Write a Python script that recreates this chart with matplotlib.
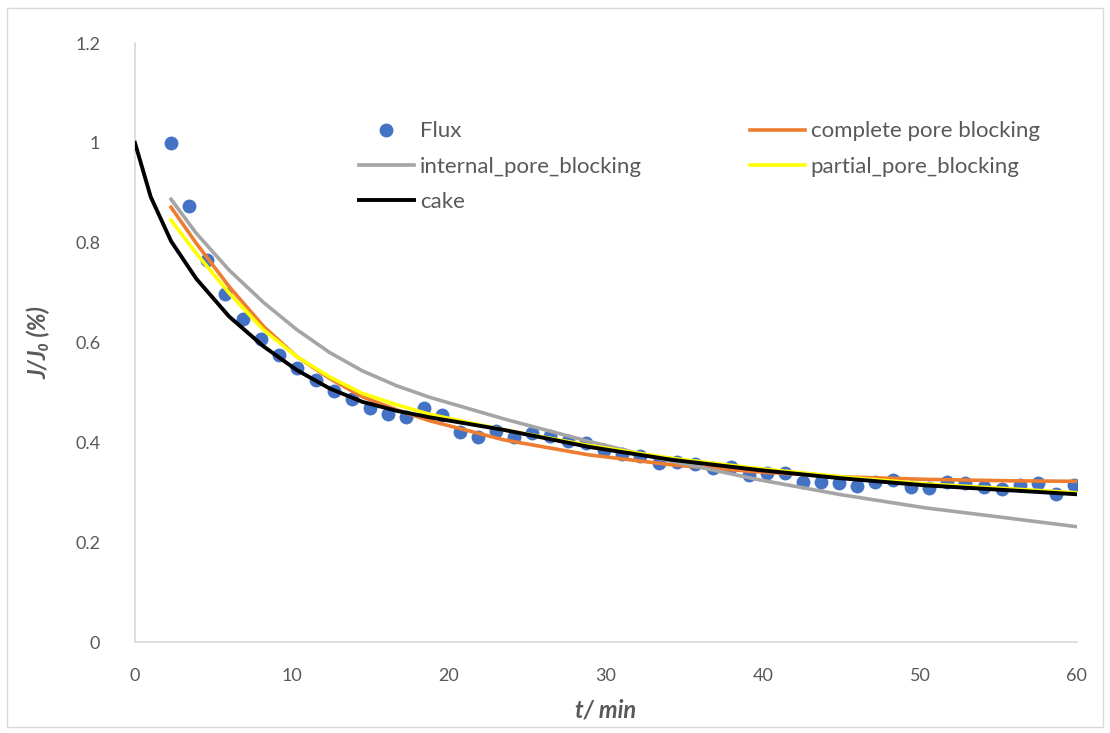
import matplotlib
matplotlib.use("Agg")
import matplotlib.pyplot as plt
from matplotlib.ticker import FuncFormatter
from matplotlib.patches import Rectangle

plt.rcParams['font.family'] = ['Lato', 'DejaVu Sans']

# measured flux (time in min, normalised flux)
t_flux = [2.30, 3.45, 4.60, 5.75, 6.90, 8.05, 9.20, 10.35, 11.50, 12.65,
          13.80, 14.95, 16.10, 17.25, 18.40, 19.55, 20.70, 21.85, 23.00, 24.15,
          25.30, 26.45, 27.60, 28.75, 29.90, 31.05, 32.20, 33.35, 34.50, 35.65,
          36.80, 37.95, 39.10, 40.25, 41.40, 42.55, 43.70, 44.85, 46.00, 47.15,
          48.30, 49.45, 50.60, 51.75, 52.90, 54.05, 55.20, 56.35, 57.50, 58.65,
          59.80]
flux = [1.000, 0.873, 0.765, 0.697, 0.647, 0.607, 0.575, 0.549, 0.525, 0.503,
        0.487, 0.469, 0.457, 0.451, 0.469, 0.455, 0.421, 0.411, 0.423, 0.411,
        0.419, 0.413, 0.403, 0.399, 0.385, 0.377, 0.373, 0.359, 0.361, 0.357,
        0.349, 0.351, 0.335, 0.339, 0.339, 0.321, 0.321, 0.319, 0.313, 0.321,
        0.325, 0.311, 0.309, 0.321, 0.319, 0.311, 0.307, 0.315, 0.319, 0.297,
        0.315]

# model curves
t_fit = [2.3, 3.9, 6.0, 8.2, 10.3, 12.4, 14.5, 16.7, 18.8, 23.5, 28.9,
         34.2, 39.6, 45.0, 50.3, 55.7, 60.0]
complete = [0.871, 0.799, 0.712, 0.632, 0.572, 0.528, 0.491, 0.465, 0.443,
            0.405, 0.375, 0.355, 0.341, 0.331, 0.326, 0.323, 0.322]
internal = [0.887, 0.819, 0.745, 0.680, 0.626, 0.580, 0.543, 0.513, 0.490,
            0.447, 0.402, 0.362, 0.326, 0.295, 0.269, 0.248, 0.231]
partial = [0.845, 0.779, 0.699, 0.625, 0.572, 0.531, 0.498, 0.475, 0.456,
           0.425, 0.394, 0.368, 0.348, 0.331, 0.317, 0.307, 0.299]
t_cake = [0.0, 1.0] + t_fit
cake = [1.000, 0.892, 0.803, 0.728, 0.652, 0.592, 0.545, 0.508, 0.481,
        0.463, 0.450, 0.425, 0.391, 0.365, 0.345, 0.328, 0.314, 0.304, 0.296]

text_col = '#595959'
axis_col = '#d9d9d9'

fig = plt.figure(figsize=(11.1, 7.33), dpi=100)
fig.patches.append(Rectangle((0.006, 0.008), 0.988, 0.981, transform=fig.transFigure,
                             fill=False, edgecolor=axis_col, linewidth=1))
ax = fig.add_axes([0.1216, 0.1241, 0.8486, 0.8172])

h_flux, = ax.plot(t_flux, flux, 'o', color='#4472C4', markersize=10,
                  markeredgewidth=0, label='Flux', zorder=2)
h_comp, = ax.plot(t_fit, complete, color='#ED7D31', lw=2.6,
                  label='complete pore blocking', zorder=3)
h_int, = ax.plot(t_fit, internal, color='#A5A5A5', lw=2.6,
                 label='internal_pore_blocking', zorder=3)
h_part, = ax.plot(t_fit, partial, color='#FFFF00', lw=2.6,
                  label='partial_pore_blocking', zorder=4)
h_cake, = ax.plot(t_cake, cake, color='black', lw=2.8, label='cake', zorder=5)

ax.set_xlim(0, 60)
ax.set_ylim(0, 1.2)
ax.set_xticks([0, 10, 20, 30, 40, 50, 60])
ax.set_yticks([0, 0.2, 0.4, 0.6, 0.8, 1.0, 1.2])
ax.yaxis.set_major_formatter(FuncFormatter(lambda v, p: '%g' % round(v, 2)))
ax.tick_params(length=0, labelsize=13, labelcolor=text_col)
ax.tick_params(axis='x', pad=19)
ax.tick_params(axis='y', pad=25)
for s in ['top', 'right']:
    ax.spines[s].set_visible(False)
for s in ['left', 'bottom']:
    ax.spines[s].set_color(axis_col)
    ax.spines[s].set_linewidth(1.2)

ax.set_xlabel('t/ min', fontsize=17, fontweight='bold', fontstyle='italic',
              color=text_col, labelpad=10)
ax.set_ylabel('J/J₀ (%)', fontsize=17, fontweight='bold', fontstyle='italic',
              color=text_col, labelpad=18)

leg = ax.legend(handles=[h_flux, h_int, h_cake, h_comp, h_part], ncol=2,
                loc='upper left', bbox_to_anchor=(0.228, 0.884), borderaxespad=0,
                frameon=False, fontsize=16, handlelength=2.5, columnspacing=4.85,
                labelspacing=0.68, handletextpad=0.25)
for txt in leg.get_texts():
    txt.set_color(text_col)

fig.savefig('out.png', dpi=100)
